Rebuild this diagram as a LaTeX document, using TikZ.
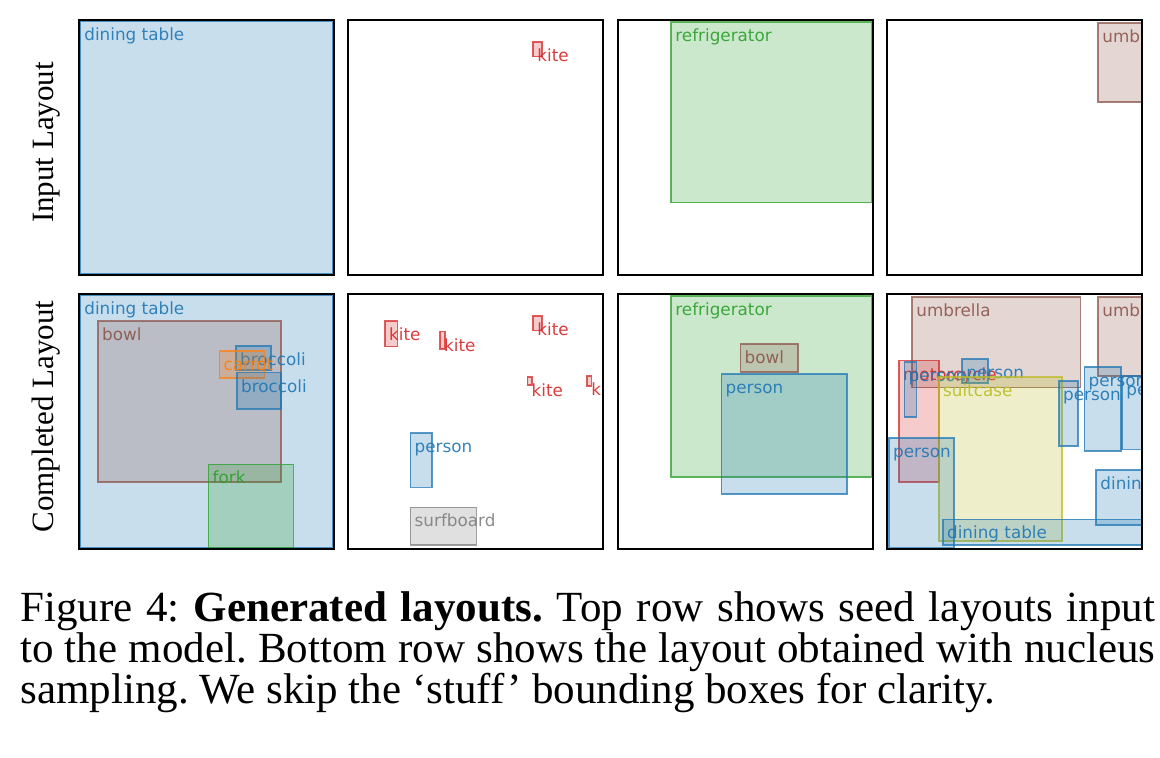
\documentclass[tikz,border=0pt]{standalone}
\usepackage{fontspec}
\setmainfont{Liberation Serif}
\newfontfamily\lblfamily{DejaVu Sans}
\definecolor{tabblue}{HTML}{1F77B4}
\definecolor{taborange}{HTML}{FF7F0E}
\definecolor{tabgreen}{HTML}{2CA02C}
\definecolor{tabred}{HTML}{D62728}
\definecolor{tabbrown}{HTML}{8C564B}
\definecolor{tabgray}{HTML}{7F7F7F}
\definecolor{tabolive}{HTML}{BCBD22}
\tikzset{
  bb/.style={draw=#1, draw opacity=0.75, fill=#1, fill opacity=0.24, line width=0.8pt},
  lbl/.style={text=#1, text opacity=0.9, font=\lblfamily\fontsize{8.4pt}{10pt}\selectfont, anchor=base west, inner sep=0pt},
  frame/.style={draw=black, line width=1pt},
  rowlbl/.style={font=\fontsize{15.5pt}{18pt}\selectfont, rotate=90, anchor=base, inner sep=0pt},
  capline/.style={font=\fontsize{21.5pt}{25pt}\selectfont, anchor=base west, inner sep=0pt},
}
% #1 name, #2 colour, #3 x0, #4 y0, #5 x1, #6 y1, #7 label
\newcommand\lbox[7]{%
  \draw[bb=#2] (#3,#4) rectangle (#5,#6);
  \node[lbl=#2] (#1) at ({#3+4},{#4+19.5}) {#7};}
\frenchspacing
\begin{document}
\begin{tikzpicture}[x=0.5pt,y=-0.5pt]
\useasboundingbox[fill=white] (0,0) rectangle (1160,758);

% ---------- row labels ----------
\node[rowlbl] (rowin) at (53,142.5) {Input Layout};
\node[rowlbl] (rowout) at (53,416.5) {Completed Layout};

% ---------- top row ----------
\begin{scope}[shift={(79,20)}]
  \clip (0,0) rectangle (255,255);
  \lbox{ta1}{tabblue}{1}{1}{254}{254}{dining table}
\end{scope}
\draw[frame] (79,20) rectangle ++(255,255);

\begin{scope}[shift={(348,20)}]
  \clip (0,0) rectangle (255,255);
  \lbox{tb1}{tabred}{185}{22}{194}{36.7}{kite}
\end{scope}
\draw[frame] (348,20) rectangle ++(255,255);

\begin{scope}[shift={(618,20)}]
  \clip (0,0) rectangle (255,255);
  \lbox{tc1}{tabgreen}{53}{2}{253.3}{182.7}{refrigerator}
\end{scope}
\draw[frame] (618,20) rectangle ++(255,255);

\begin{scope}[shift={(887,20)}]
  \clip (0,0) rectangle (255,255);
  \lbox{td1}{tabbrown}{211}{3}{258}{82}{umbrella}
\end{scope}
\draw[frame] (887,20) rectangle ++(255,255);

% ---------- bottom row ----------
\begin{scope}[shift={(79,294)}]
  \clip (0,0) rectangle (255,255);
  \lbox{ba1}{tabblue}{1}{1}{254}{254}{dining table}
  \lbox{ba2}{tabbrown}{18.7}{27}{202}{187.7}{bowl}
  \lbox{ba3}{tabblue}{156.7}{52}{192}{76}{broccoli}
  \lbox{ba4}{taborange}{140.3}{57}{185.3}{84.3}{carrot}
  \lbox{ba5}{tabblue}{157.7}{78.7}{201.7}{115.3}{broccoli}
  \lbox{ba6}{tabgreen}{129.3}{170.3}{214.3}{253.3}{fork}
\end{scope}
\draw[frame] (79,294) rectangle ++(255,255);

\begin{scope}[shift={(348,294)}]
  \clip (0,0) rectangle (255,255);
  \lbox{bb1}{tabred}{36.7}{27}{49.3}{52.7}{kite}
  \lbox{bb2}{tabred}{91.7}{37.7}{96.7}{55}{kite}
  \lbox{bb3}{tabred}{185}{22}{194}{36.7}{kite}
  \lbox{bb4}{tabred}{179.3}{83.3}{184}{91}{kite}
  \lbox{bb5}{tabred}{239}{82}{243.3}{92}{kite}
  \lbox{bb6}{tabblue}{62.3}{139.3}{84}{193.3}{person}
  \lbox{bb7}{tabgray}{62.3}{213.3}{128.3}{251}{surfboard}
\end{scope}
\draw[frame] (348,294) rectangle ++(255,255);

\begin{scope}[shift={(618,294)}]
  \clip (0,0) rectangle (255,255);
  \lbox{bc1}{tabgreen}{53}{2}{253.3}{182.7}{refrigerator}
  \lbox{bc2}{tabbrown}{122.3}{50.3}{180}{78}{bowl}
  \lbox{bc3}{tabblue}{103.3}{80}{228.7}{200}{person}
\end{scope}
\draw[frame] (618,294) rectangle ++(255,255);

\begin{scope}[shift={(887,294)}]
  \clip (0,0) rectangle (255,255);
  \lbox{bd1}{tabbrown}{25}{3.3}{193.3}{93.7}{umbrella}
  \lbox{bd2}{tabbrown}{211}{3}{258}{82}{umbrella}
  \lbox{bd3}{tabred}{11.7}{66.7}{51.7}{187.7}{motorcycle}
  \lbox{bd4}{tabblue}{17.3}{68.3}{29.3}{123.3}{person}
  \lbox{bd5}{tabblue}{75}{65.3}{100.7}{89.3}{person}
  \lbox{bd6}{tabolive}{51.7}{83.3}{175}{246.7}{suitcase}
  \lbox{bd7}{tabblue}{171.7}{87}{191}{151.7}{person}
  \lbox{bd8}{tabblue}{197.3}{73.3}{234}{156.7}{person}
  \lbox{bd9}{tabblue}{235}{82}{258}{155.3}{person}
  \lbox{bd10}{tabblue}{1.7}{144.3}{66.7}{253.3}{person}
  \lbox{bd11}{tabblue}{209}{176}{258}{231}{dining table}
  \lbox{bd12}{tabblue}{55.7}{225.3}{258}{251}{dining table}
\end{scope}
\draw[frame] (887,294) rectangle ++(255,255);

% ---------- caption ----------
\node[capline] (cap1) at (20,621) {\makebox[567.5pt][s]{Figure 4: \textbf{Generated layouts.} Top row shows seed layouts input}};
\node[capline] (cap2) at (20,662) {\makebox[567.5pt][s]{to the model. Bottom row shows the layout obtained with nucleus}};
\node[capline] (cap3) at (20,703) {sampling. We skip the ‘stuff’ bounding boxes for clarity.};
\end{tikzpicture}
\end{document}
